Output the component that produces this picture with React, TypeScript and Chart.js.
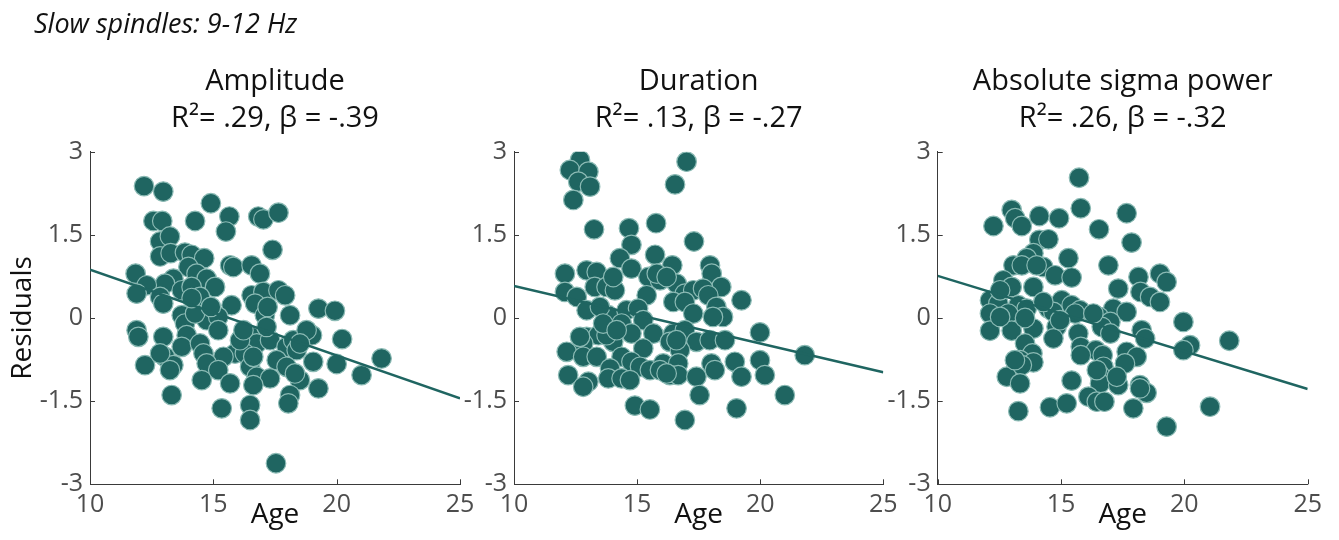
import React, { useEffect, useRef } from "react";
import { Chart, registerables } from "chart.js";
Chart.register(...registerables);

const FONT = "'Open Sans', 'Noto Sans', sans-serif";
const TEAL = "#1f6561";
const EDGE = "#8bbab4";
const AXIS = "#3a3a3a";
const TICKTXT = "#4d4d4d";

const pageTitle = "Slow spindles: 9-12 Hz";
const xTicks = [10, 15, 20, 25];
const yTicks = [-3, -1.5, 0, 1.5, 3];
const yTickLabels = ["-3", "-1.5", "0", "1.5", "3"];
const xTitle = "Age";
const yTitle = "Residuals";
const fitX = [10, 25];

const ampTitle = ["Amplitude", "R\u00b2= .29, \u03b2 = -.39"];
const ampAge = [12.19, 12.97, 14.9, 15.65, 16.82, 17.03, 17.64, 15.51, 14.26, 12.57, 12.93, 12.84, 13.24, 17.4, 12.84, 13.27, 13.85, 14.12, 14.63, 15.68, 15.81, 16.55, 16.89, 11.85, 13.99, 14.32, 14.73, 15.07, 13.38, 13.04, 12.3, 11.89, 12.84, 12.97, 13.72, 14.12, 14.46, 15.74, 16.55, 17.03, 17.64, 17.91, 16.69, 17.09, 18.11, 19.26, 19.93, 14.73, 13.72, 13.85, 15.2, 15.2, 11.89, 11.96, 12.97, 13.92, 13.72, 14.46, 14.6, 19.0, 20.22, 16.55, 16.76, 17.3, 17.97, 18.24, 18.38, 15.88, 15.41, 16.28, 16.49, 17.57, 17.97, 19.05, 20.0, 21.82, 21.01, 12.23, 13.04, 13.38, 13.24, 14.73, 15.2, 14.53, 15.68, 16.76, 17.3, 16.62, 18.51, 18.31, 19.26, 13.31, 18.11, 18.04, 15.34, 16.49, 16.49, 17.54, 16.08, 14.26, 17.16, 14.12, 16.62, 12.84, 18.78, 18.51, 16.22, 17.2, 14.9];
const ampRes = [2.38, 2.28, 2.07, 1.83, 1.83, 1.78, 1.9, 1.56, 1.75, 1.75, 1.75, 1.38, 1.47, 1.23, 1.11, 1.17, 1.18, 1.14, 1.08, 0.95, 0.92, 0.95, 0.8, 0.8, 0.92, 0.8, 0.71, 0.56, 0.71, 0.62, 0.59, 0.44, 0.38, 0.26, 0.5, 0.56, 0.38, 0.23, 0.41, 0.47, 0.5, 0.41, 0.26, 0.05, 0.05, 0.17, 0.13, -0.04, 0.05, -0.1, 0.02, -0.22, -0.22, -0.34, -0.34, -0.31, -0.52, -0.46, -0.64, -0.31, -0.38, -0.34, -0.46, -0.4, -0.52, -0.4, -0.58, -0.64, -0.7, -0.64, -0.88, -0.76, -0.88, -0.79, -0.83, -0.73, -1.03, -0.85, -0.7, -0.85, -0.94, -0.82, -0.94, -1.12, -1.18, -1.06, -1.09, -1.21, -1.12, -1.0, -1.27, -1.39, -1.39, -1.54, -1.63, -1.57, -1.84, -2.62, -0.4, 0.08, -0.16, 0.36, -0.7, -0.64, -0.22, -0.46, -0.22, 0.2, 0.2];
const ampFit = [0.87, -1.45];

const durTitle = ["Duration", "R\u00b2= .13, \u03b2 = -.27"];
const durAge = [12.68, 12.27, 13.02, 12.61, 13.09, 12.41, 17.01, 16.54, 13.25, 14.67, 15.77, 14.77, 17.31, 14.3, 15.73, 16.43, 17.96, 14.77, 12.07, 12.95, 13.36, 18.03, 15.46, 15.93, 16.61, 18.42, 12.07, 12.55, 13.28, 13.76, 14.1, 15.39, 16.94, 17.28, 17.68, 17.89, 16.47, 16.94, 19.24, 12.95, 13.83, 14.57, 15.04, 13.49, 17.28, 18.22, 18.49, 18.08, 14.37, 15.25, 14.77, 15.66, 16.47, 16.94, 19.99, 12.95, 13.43, 12.81, 14.03, 13.76, 17.41, 17.95, 18.57, 16.33, 12.14, 12.81, 13.36, 15.25, 14.37, 16.74, 21.81, 14.77, 15.12, 15.52, 16.06, 16.67, 18.02, 18.16, 18.97, 19.99, 20.19, 13.9, 13.83, 12.2, 13.02, 12.81, 14.37, 14.71, 16.33, 16.67, 17.41, 19.24, 17.54, 21.0, 14.91, 15.52, 19.04, 16.94, 15.93, 15.8, 16.2, 13.62, 14.03, 16.2, 16.6, 14.17, 12.68];
const durRes = [2.85, 2.67, 2.64, 2.46, 2.37, 2.13, 2.82, 2.41, 1.6, 1.62, 1.71, 1.32, 1.38, 1.08, 1.14, 0.95, 0.95, 0.89, 0.8, 0.86, 0.83, 0.8, 0.74, 0.68, 0.62, 0.56, 0.47, 0.38, 0.56, 0.56, 0.5, 0.41, 0.44, 0.5, 0.53, 0.41, 0.29, 0.29, 0.32, 0.14, 0.05, 0.14, 0.17, 0.2, 0.08, 0.2, 0.02, 0.02, -0.1, -0.04, -0.28, -0.28, -0.28, -0.22, -0.26, -0.34, -0.31, -0.46, -0.43, -0.31, -0.43, -0.4, -0.4, -0.43, -0.61, -0.7, -0.7, -0.55, -0.7, -0.58, -0.67, -0.79, -0.88, -0.94, -0.82, -0.82, -0.82, -0.94, -0.79, -0.76, -1.03, -0.91, -1.09, -1.03, -1.15, -1.24, -1.09, -1.12, -1.03, -1.03, -1.06, -1.06, -1.39, -1.39, -1.58, -1.65, -1.63, -1.84, -0.94, 0.8, -1.0, -0.1, 0.74, 0.74, -0.4, -0.22, -0.34];
const durFit = [0.58, -0.98];

const powTitle = ["Absolute sigma power", "R\u00b2= .26, \u03b2 = -.32"];
const powAge = [15.73, 15.8, 13.0, 13.14, 13.41, 12.26, 14.12, 14.92, 17.66, 16.54, 17.86, 14.12, 14.49, 13.88, 13.61, 15.3, 13.07, 13.41, 14.28, 16.92, 14.76, 15.43, 18.14, 19.01, 19.28, 12.66, 13.0, 13.88, 17.32, 18.22, 18.61, 19.01, 12.12, 12.46, 13.27, 13.61, 14.49, 15.03, 15.43, 15.77, 17.12, 17.66, 12.12, 12.86, 14.69, 16.54, 17.0, 19.96, 12.12, 13.0, 13.88, 14.82, 15.7, 16.65, 17.0, 18.27, 18.41, 21.82, 14.69, 13.54, 20.23, 15.8, 16.41, 17.66, 19.96, 13.84, 15.8, 16.69, 18.07, 13.34, 13.88, 13.2, 13.41, 16.72, 17.59, 12.8, 13.34, 15.43, 16.58, 16.58, 17.32, 18.2, 18.47, 18.2, 16.11, 16.45, 16.76, 13.27, 14.55, 15.23, 17.93, 21.04, 19.28, 12.53, 14.01, 14.28, 12.53, 13.54, 15.57, 14.96, 13.13, 17.26, 16.45, 16.31];
const powRes = [2.53, 1.98, 1.95, 1.8, 1.66, 1.66, 1.84, 1.8, 1.89, 1.6, 1.36, 1.41, 1.42, 1.17, 1.08, 1.08, 0.95, 0.95, 0.92, 0.95, 0.77, 0.73, 0.74, 0.8, 0.65, 0.68, 0.56, 0.56, 0.53, 0.47, 0.38, 0.29, 0.32, 0.26, 0.23, 0.17, 0.17, 0.32, 0.23, 0.14, 0.17, 0.11, 0.08, 0.08, 0.11, 0.02, -0.07, -0.07, -0.23, -0.23, -0.19, -0.16, -0.28, -0.16, -0.28, -0.22, -0.37, -0.41, -0.37, -0.46, -0.49, -0.52, -0.58, -0.61, -0.58, -0.64, -0.67, -0.67, -0.7, -0.76, -0.8, -0.88, -0.85, -0.88, -0.82, -1.06, -1.18, -1.13, -1.03, -1.18, -1.21, -1.21, -1.35, -1.27, -1.42, -1.51, -1.51, -1.68, -1.61, -1.54, -1.63, -1.6, -1.96, 0.5, 0.95, 0.29, 0.02, 0.0, 0.08, -0.04, -0.76, -1.06, -0.94, 0.08];
const powFit = [0.76, -1.28];

type Panel = {
  title: string[];
  age: number[];
  res: number[];
  fit: number[];
  left: number;
  width: number;
  axisW: number;
  padRight: number;
  showY: boolean;
};

const panels: Panel[] = [
  { title: ampTitle, age: ampAge, res: ampRes, fit: ampFit, left: 0, width: 480, axisW: 90, padRight: 20, showY: true },
  { title: durTitle, age: durAge, res: durRes, fit: durFit, left: 440, width: 470, axisW: 74, padRight: 26.7, showY: false },
  { title: powTitle, age: powAge, res: powRes, fit: powFit, left: 880, width: 459, axisW: 57.7, padRight: 31.3, showY: false },
];

const inwardTicks = {
  id: "inwardTicks",
  afterDraw(chart: any) {
    const { ctx, chartArea, scales } = chart;
    ctx.save();
    ctx.strokeStyle = AXIS;
    ctx.lineWidth = 1;
    scales.x.ticks.forEach((t: any) => {
      const px = Math.round(scales.x.getPixelForValue(t.value)) + 0.5;
      ctx.beginPath();
      ctx.moveTo(px, chartArea.bottom);
      ctx.lineTo(px, chartArea.bottom - 5);
      ctx.stroke();
    });
    scales.y.ticks.forEach((t: any) => {
      const py = Math.round(scales.y.getPixelForValue(t.value)) + 0.5;
      ctx.beginPath();
      ctx.moveTo(chartArea.left, py);
      ctx.lineTo(chartArea.left + 5, py);
      ctx.stroke();
    });
    ctx.restore();
  },
};

function PanelChart({ p }: { p: Panel }) {
  const ref = useRef<HTMLCanvasElement>(null);
  useEffect(() => {
    if (!ref.current) return;
    const chart = new Chart(ref.current, {
      type: "scatter",
      data: {
        datasets: [
          {
            type: "line",
            data: fitX.map((x, i) => ({ x, y: p.fit[i] })),
            borderColor: TEAL,
            borderWidth: 2.5,
            pointRadius: 0,
            showLine: true,
            order: 0,
          } as any,
          {
            data: p.age.map((x, i) => ({ x, y: p.res[i] })),
            backgroundColor: TEAL,
            borderColor: EDGE,
            borderWidth: 1.2,
            pointRadius: 9.8,
            order: 1,
          },
        ],
      },
      options: {
        responsive: false,
        animation: false,
        events: [],
        layout: { padding: { top: 0, left: 0, right: p.padRight, bottom: 0 } },
        plugins: {
          legend: { display: false },
          tooltip: { enabled: false },
          title: {
            display: true,
            text: p.title,
            fullSize: false,
            color: "#111",
            font: { family: FONT, size: 29, weight: "normal", lineHeight: 1.276 },
            padding: { top: 63, bottom: 14.7 },
          },
        },
        scales: {
          x: {
            type: "linear",
            min: 10,
            max: 25,
            afterBuildTicks: (s: any) => {
              s.ticks = xTicks.map((v) => ({ value: v }));
            },
            afterFit: (s: any) => {
              s.height = 55.7;
              s.paddingLeft = 0;
              s.paddingRight = 0;
            },
            grid: { display: false, drawTicks: false },
            border: { display: true, color: AXIS, width: 1 },
            ticks: {
              padding: 6,
              color: TICKTXT,
              font: { family: FONT, size: 25 },
              maxRotation: 0,
              autoSkip: false,
              callback: (v: any) => String(v),
            },
            title: {
              display: true,
              text: xTitle,
              color: "#111",
              font: { family: FONT, size: 28 },
              padding: { top: 0, bottom: 8.5 },
            },
          },
          y: {
            type: "linear",
            min: -3,
            max: 3,
            afterBuildTicks: (s: any) => {
              s.ticks = yTicks.map((v) => ({ value: v }));
            },
            afterFit: (s: any) => {
              s.width = p.axisW;
              s.paddingTop = 0;
              s.paddingBottom = 0;
            },
            grid: { display: false, drawTicks: false },
            border: { display: true, color: AXIS, width: 1 },
            ticks: {
              padding: 7,
              color: TICKTXT,
              font: { family: FONT, size: 25 },
              autoSkip: false,
              callback: (v: any) => {
                const i = yTicks.indexOf(Number(v));
                return i >= 0 ? yTickLabels[i] : "";
              },
            },
            title: {
              display: p.showY,
              text: yTitle,
              color: "#111",
              font: { family: FONT, size: 28 },
              padding: { top: 6, bottom: 0 },
            },
          },
        },
      },
      plugins: [inwardTicks],
    });
    return () => chart.destroy();
  }, [p]);
  return (
    <canvas
      ref={ref}
      width={p.width}
      height={540}
      style={{ position: "absolute", left: p.left, top: 0, width: p.width, height: 540 }}
    />
  );
}

export default function App() {
  return (
    <div
      style={{
        position: "fixed",
        left: 0,
        top: 0,
        width: 1339,
        height: 540,
        background: "#fff",
        overflow: "hidden",
      }}
    >
      {panels.map((p, i) => (
        <PanelChart key={i} p={p} />
      ))}
      <div
        style={{
          position: "absolute",
          left: 34,
          top: 9,
          fontFamily: FONT,
          fontStyle: "italic",
          fontSize: 27,
          lineHeight: "27px",
          color: "#111",
          whiteSpace: "nowrap",
        }}
      >
        {pageTitle}
      </div>
    </div>
  );
}
